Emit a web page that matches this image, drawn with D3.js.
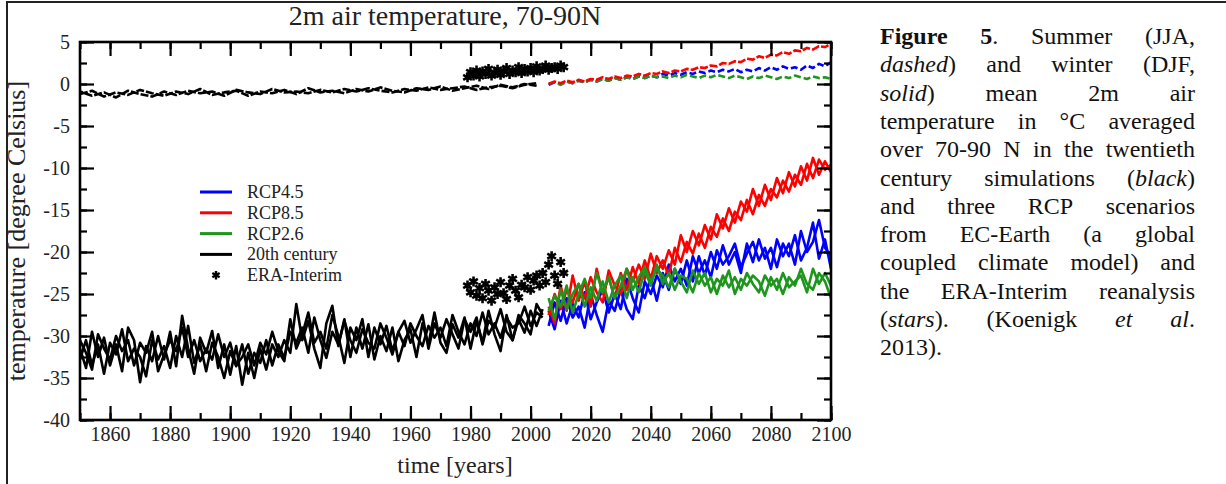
<!DOCTYPE html>
<html>
<head>
<meta charset="utf-8">
<script src="https://cdn.jsdelivr.net/npm/d3@7"></script>
<style>
  body { margin: 0; background: #fff; }
  svg { display: block; font-family: "Liberation Serif", "Times New Roman", serif; }
</style>
</head>
<body>
<div id="chart-container"></div>
<script>
// ---- data ----
const histStart = 1850;   // 20th century runs, every 2 years
const histStep = 2;
const histWinterA = [-31.5, -33.8, -29.5, -32.5, -30.2, -33.5, -31.0, -34.2, -29.0, -30.5,
  -35.5, -31.2, -33.0, -30.0, -32.8, -29.5, -33.6, -27.6, -31.5, -34.5,
  -30.2, -32.0, -29.4, -33.8, -31.0, -34.6, -31.2, -35.8, -32.0, -35.0,
  -31.5, -34.0, -31.0, -32.5, -30.5, -32.0, -26.2, -30.5, -28.2, -31.5,
  -33.8, -28.5, -26.4, -31.2, -28.0, -32.5, -29.0, -31.5, -28.6, -32.8,
  -30.0, -31.8, -29.0, -33.0, -30.5, -29.2, -32.5, -28.5, -31.0, -27.2,
  -30.8, -32.0, -28.6, -30.2, -27.8, -31.5, -28.2, -30.8, -27.0, -29.8,
  -31.8, -27.5, -30.5, -28.0, -29.6, -27.0, -28.8, -26.8];
const histWinterB = [-32.8, -30.5, -33.5, -31.0, -34.5, -30.8, -32.2, -29.2, -33.0, -31.5,
  -32.5, -34.8, -30.5, -32.8, -31.2, -33.8, -30.0, -32.5, -28.8, -33.2,
  -31.0, -34.2, -30.8, -32.5, -35.0, -31.8, -33.6, -31.0, -34.5, -32.0,
  -33.2, -30.5, -33.5, -31.0, -32.6, -29.5, -30.8, -29.0, -32.0, -27.8,
  -30.5, -32.6, -29.5, -31.0, -28.2, -30.5, -32.0, -29.2, -30.8, -31.5,
  -28.5, -30.2, -32.2, -29.5, -31.2, -28.5, -30.0, -31.2, -28.8, -30.2,
  -29.0, -31.2, -27.5, -29.5, -31.0, -28.5, -30.0, -27.2, -29.8, -28.5,
  -30.2, -27.8, -29.0, -28.5, -26.5, -28.8, -27.2, -27.8];
const histWinterC = [-30.5, -32.0, -34.0, -29.8, -31.5, -32.8, -30.0, -31.8, -30.5, -33.5,
  -30.8, -32.0, -29.5, -34.2, -32.2, -30.5, -31.8, -29.0, -32.5, -30.5,
  -33.0, -31.5, -32.8, -29.8, -32.5, -30.8, -33.5, -32.5, -31.0, -33.5,
  -30.8, -32.2, -29.5, -31.8, -33.0, -28.0, -31.5, -29.8, -27.2, -30.8,
  -29.5, -31.5, -27.5, -30.0, -33.2, -29.0, -30.5, -28.0, -32.5, -29.0,
  -31.0, -28.8, -31.8, -29.5, -28.2, -30.8, -29.2, -27.5, -31.5, -28.5,
  -30.2, -28.0, -29.8, -31.5, -28.0, -29.5, -27.8, -31.0, -28.2, -29.0,
  -26.8, -29.5, -30.5, -27.5, -28.5, -29.8, -26.2, -27.5];

const histSummerStep = 4;
const histSummerA = [-1.2, -0.8, -1.5, -1.0, -1.3, -0.7, -1.1, -1.4, -0.9, -1.2,
  -0.6, -1.3, -1.0, -0.8, -1.4, -0.9, -1.1, -0.7, -1.2, -0.5,
  -1.0, -0.8, -1.1, -0.6, -0.9, -0.4, -0.8, -1.0, -0.5, -0.7,
  -0.3, -0.8, -0.5, -0.2, -0.6, -0.1, -0.4, 0.0, -0.2];
const histSummerB = [-0.9, -1.4, -1.0, -1.6, -0.8, -1.2, -1.5, -0.9, -1.3, -0.8,
  -1.1, -0.9, -1.4, -0.7, -1.0, -1.2, -0.6, -1.0, -0.9, -1.1,
  -0.7, -1.0, -0.6, -0.9, -0.5, -0.8, -1.0, -0.6, -0.8, -0.4,
  -0.7, -0.5, -0.3, -0.7, -0.4, -0.2, -0.5, -0.1, 0.1];

const rcpStart = 2006;    // scenario runs, every 2 years
const rcpStep = 2;
const rcp85WinterA = [-26.5, -28.5, -24.0, -27.0, -22.8, -25.8, -23.5, -26.5, -22.0, -25.0,
  -23.0, -25.5, -22.5, -24.5, -21.8, -23.8, -21.0, -23.2, -20.5, -22.0,
  -19.8, -21.5, -18.0, -20.0, -17.5, -19.2, -16.8, -18.5, -15.5, -17.2,
  -14.8, -16.5, -14.0, -15.2, -12.5, -14.5, -12.0, -13.8, -11.2, -13.0,
  -10.5, -12.2, -9.8, -11.5, -8.8, -10.8, -9.2, -10.5];
const rcp85WinterB = [-27.5, -25.0, -26.8, -24.5, -26.0, -23.8, -25.5, -23.0, -24.8, -26.0,
  -22.2, -24.0, -25.0, -22.0, -23.5, -21.5, -23.2, -20.2, -22.5, -21.0,
  -22.8, -19.5, -21.2, -18.8, -20.2, -17.8, -19.5, -17.0, -18.2, -16.0,
  -17.5, -15.2, -16.2, -13.8, -15.5, -13.2, -14.5, -12.5, -13.5, -11.5,
  -12.8, -10.8, -12.0, -9.5, -11.2, -9.0, -10.2, -9.6];
const rcp45WinterA = [-28.8, -26.0, -28.2, -25.5, -27.8, -26.5, -29.0, -25.0, -27.5, -29.5,
  -25.8, -27.0, -24.5, -26.8, -28.0, -24.0, -25.5, -23.0, -25.8, -22.5,
  -24.5, -22.0, -23.8, -21.0, -23.5, -20.5, -22.8, -20.0, -22.0, -19.2,
  -21.5, -20.0, -22.5, -19.0, -21.2, -18.5, -20.8, -19.5, -21.8, -19.0,
  -20.5, -18.0, -21.0, -19.5, -16.5, -20.8, -18.5, -22.0];
const rcp45WinterB = [-27.0, -29.2, -25.8, -28.5, -26.2, -27.8, -24.8, -28.0, -26.0, -24.5,
  -27.2, -25.0, -26.8, -23.2, -25.5, -27.2, -23.5, -25.0, -22.8, -24.2,
  -21.5, -23.5, -22.0, -24.0, -20.5, -22.5, -21.0, -23.0, -19.8, -21.5,
  -20.5, -19.0, -21.8, -20.2, -18.8, -21.0, -19.5, -22.0, -18.5, -20.5,
  -19.0, -21.5, -17.5, -20.0, -18.8, -16.2, -19.5, -20.5];
const rcp26WinterA = [-25.5, -28.0, -24.5, -26.8, -25.0, -23.8, -26.5, -24.2, -25.8, -23.5,
  -26.0, -24.0, -22.8, -25.5, -23.0, -24.8, -22.2, -24.0, -21.5, -23.8,
  -22.5, -24.5, -22.8, -23.2, -24.8, -22.5, -24.0, -23.0, -25.0, -22.8,
  -24.2, -23.0, -24.5, -22.5, -23.8, -24.8, -22.8, -24.0, -23.2, -25.0,
  -23.0, -24.0, -22.0, -23.8, -24.5, -22.5, -23.5, -25.5];
const rcp26WinterB = [-27.0, -25.2, -26.5, -24.0, -27.2, -25.0, -23.2, -25.5, -22.5, -24.8,
  -23.0, -25.5, -24.0, -22.0, -24.5, -23.0, -21.8, -23.5, -22.0, -22.8,
  -24.2, -22.0, -23.5, -24.8, -22.2, -23.8, -22.5, -24.8, -23.2, -24.0,
  -22.2, -25.0, -23.2, -24.0, -22.8, -23.5, -25.2, -23.0, -24.5, -22.5,
  -24.2, -23.5, -22.8, -24.8, -22.0, -23.8, -22.5, -24.0];

const rcp85Summer = [0.0, 0.3, 0.1, 0.4, 0.2, 0.5, 0.3, 0.6, 0.5, 0.8,
  0.6, 0.9, 0.7, 1.0, 0.9, 1.2, 1.0, 1.3, 1.2, 1.5,
  1.3, 1.6, 1.5, 1.8, 1.7, 2.0, 1.9, 2.2, 2.1, 2.5,
  2.4, 2.7, 2.6, 3.0, 2.9, 3.3, 3.1, 3.5, 3.4, 3.8,
  3.6, 4.0, 3.9, 4.3, 4.1, 4.5, 4.4, 4.8];
const rcp45Summer = [-0.1, 0.2, 0.0, 0.3, 0.1, 0.4, 0.2, 0.5, 0.3, 0.6,
  0.4, 0.7, 0.5, 0.8, 0.6, 0.9, 0.7, 1.0, 0.8, 1.2,
  1.0, 1.3, 1.1, 1.4, 1.2, 1.5, 1.3, 1.6, 1.4, 1.7,
  1.5, 1.8, 1.4, 1.7, 1.5, 1.9, 1.6, 2.0, 1.7, 2.1,
  1.8, 2.0, 1.7, 2.2, 1.9, 2.4, 2.1, 2.6];
const rcp26Summer = [0.0, 0.2, -0.1, 0.3, 0.1, 0.4, 0.2, 0.5, 0.3, 0.6,
  0.4, 0.7, 0.5, 0.8, 0.6, 0.9, 0.7, 1.0, 0.8, 0.9,
  0.7, 1.0, 0.8, 1.1, 0.9, 0.7, 1.0, 0.8, 1.1, 0.9,
  0.7, 1.0, 0.8, 0.6, 0.9, 0.7, 1.0, 0.8, 0.6, 0.9,
  0.7, 1.0, 0.8, 0.6, 0.9, 0.7, 0.8, 0.6];

const eraStart = 1979;    // ERA-Interim, yearly
const eraWinter = [-24.0, -24.8, -23.5, -25.2, -24.3, -25.5, -23.8, -24.6, -25.8, -24.2,
  -25.0, -23.6, -24.9, -25.6, -24.0, -23.2, -24.6, -25.4, -23.9, -24.2,
  -23.0, -24.5, -23.4, -22.8, -24.0, -22.5, -23.6, -21.5, -20.5, -22.8,
  -23.8, -21.2, -22.5];
const eraSummer = [0.8, 1.4, 1.0, 1.6, 0.9, 1.5, 1.2, 1.8, 1.0, 1.3,
  1.7, 1.1, 1.5, 1.9, 1.2, 1.6, 1.4, 2.0, 1.3, 1.8,
  1.5, 1.9, 1.4, 2.1, 1.6, 1.8, 2.2, 1.7, 1.9, 2.0,
  1.8, 2.2, 2.0];

const xTicks = [1860, 1880, 1900, 1920, 1940, 1960, 1980, 2000, 2020, 2040, 2060, 2080, 2100];
const yTicks = [5, 0, -5, -10, -15, -20, -25, -30, -35, -40];
const legendNames = ["RCP4.5", "RCP8.5", "RCP2.6", "20th century", "ERA-Interim"];
const legendColors = ["#0000ff", "#ff0000", "#1e961e", "#000000", "#000000"];

const captionLines = [
  "**Figure** **5**. Summer (JJA,",
  "*dashed*) and winter (DJF,",
  "*solid*) mean 2m air",
  "temperature in °C averaged",
  "over 70-90 N in the twentieth",
  "century simulations (*black*)",
  "and three RCP scenarios",
  "from EC-Earth (a global",
  "coupled climate model) and",
  "the ERA-Interim reanalysis",
  "(*stars*). (Koenigk *et* *al*.",
  "2013)."
];

// ---- layout ----
const W = 1226, H = 484;
const plot = { left: 80, right: 831, top: 42, bottom: 420 };
const serif = "'Liberation Serif', 'Times New Roman', Times, serif";

const svg = d3.select("#chart-container")
    .append("svg")
    .attr("width", W)
    .attr("height", H)
    .style("font-family", serif);

// outer frame
svg.append("rect")
    .attr("x", 7).attr("y", 2)
    .attr("width", W + 10).attr("height", H + 10)
    .attr("fill", "none")
    .attr("stroke", "#222")
    .attr("stroke-width", 2);

const x = d3.scaleLinear().domain([1850, 2100]).range([plot.left, plot.right]);
const y = d3.scaleLinear().domain([-40, 5]).range([plot.bottom, plot.top]);

svg.append("clipPath").attr("id", "clip")
    .append("rect")
    .attr("x", plot.left).attr("y", plot.top)
    .attr("width", plot.right - plot.left).attr("height", plot.bottom - plot.top);

const g = svg.append("g").attr("clip-path", "url(#clip)");

function drawLine(values, start, step, color, width, dash, offset) {
    const line = d3.line()
        .x((d, i) => x(start + i * step))
        .y(d => y(d));
    g.append("path")
        .datum(values)
        .attr("fill", "none")
        .attr("stroke", color)
        .attr("stroke-width", width)
        .attr("stroke-linejoin", "round")
        .attr("stroke-dasharray", dash || null)
        .attr("stroke-dashoffset", offset || 0)
        .attr("d", line);
}

// summer (dashed)
drawLine(histSummerA, histStart, histSummerStep, "#000", 2.6, "8,2");
drawLine(histSummerB, histStart, histSummerStep, "#000", 2.6, "8,2", 5);
drawLine(rcp45Summer, rcpStart, rcpStep, "#0000ff", 2.6, "7,3");
drawLine(rcp26Summer, rcpStart, rcpStep, "#1e961e", 2.6, "7,3");
drawLine(rcp85Summer, rcpStart, rcpStep, "#ff0000", 2.6, "8,2");

// winter (solid)
[histWinterA, histWinterB, histWinterC].forEach(v => drawLine(v, histStart, histStep, "#000", 2.6));
[rcp45WinterA, rcp45WinterB].forEach(v => drawLine(v, rcpStart, rcpStep, "#0000ff", 2.6));
[rcp85WinterA, rcp85WinterB].forEach(v => drawLine(v, rcpStart, rcpStep, "#ff0000", 2.6));
[rcp26WinterA, rcp26WinterB].forEach(v => drawLine(v, rcpStart, rcpStep, "#1e961e", 2.6));

// ERA-Interim stars
const star = d3.symbol().type(d3.symbolAsterisk).size(70);
[eraWinter, eraSummer].forEach(vals => {
    g.selectAll(null)
        .data(vals)
        .enter()
        .append("path")
        .attr("d", star)
        .attr("transform", (d, i) => `translate(${x(eraStart + i)},${y(d)})`)
        .attr("fill", "none")
        .attr("stroke", "#000")
        .attr("stroke-width", 2.6);
});

// ---- axes (ticks point inward) ----
function styleAxis(sel) {
    sel.attr("font-family", null).attr("font-size", null);
    sel.select(".domain").remove();
    sel.selectAll(".tick line").attr("stroke", "#000").attr("stroke-width", 2.2);
    sel.selectAll(".tick text")
        .attr("fill", "#222")
        .style("font-family", serif)
        .style("font-size", "20px");
}
const xMinor = d3.range(1850, 2101, 10);
const yMinor = d3.range(-40, 5.1, 2.5);

svg.append("g").attr("transform", `translate(0,${plot.bottom})`)
    .call(d3.axisBottom(x).tickValues(xMinor).tickSize(-7).tickFormat(""))
    .call(styleAxis);
svg.append("g").attr("transform", `translate(0,${plot.bottom})`)
    .call(d3.axisBottom(x).tickValues(xTicks).tickSize(-14).tickPadding(7).tickFormat(d3.format("d")))
    .call(styleAxis);
svg.append("g").attr("transform", `translate(0,${plot.top})`)
    .call(d3.axisTop(x).tickValues(xMinor).tickSize(-7).tickFormat(""))
    .call(styleAxis);
svg.append("g").attr("transform", `translate(0,${plot.top})`)
    .call(d3.axisTop(x).tickValues(xTicks).tickSize(-14).tickFormat(""))
    .call(styleAxis);

svg.append("g").attr("transform", `translate(${plot.left},0)`)
    .call(d3.axisLeft(y).tickValues(yMinor).tickSize(-7).tickFormat(""))
    .call(styleAxis);
svg.append("g").attr("transform", `translate(${plot.left},0)`)
    .call(d3.axisLeft(y).tickValues(yTicks).tickSize(-14).tickPadding(10).tickFormat(d => String(d)))
    .call(styleAxis);
svg.append("g").attr("transform", `translate(${plot.right},0)`)
    .call(d3.axisRight(y).tickValues(yMinor).tickSize(-7).tickFormat(""))
    .call(styleAxis);
svg.append("g").attr("transform", `translate(${plot.right},0)`)
    .call(d3.axisRight(y).tickValues(yTicks).tickSize(-14).tickFormat(""))
    .call(styleAxis);

// plot frame
svg.append("rect")
    .attr("x", plot.left).attr("y", plot.top)
    .attr("width", plot.right - plot.left).attr("height", plot.bottom - plot.top)
    .attr("fill", "none")
    .attr("stroke", "#000")
    .attr("stroke-width", 2.6);

// titles
svg.append("text")
    .attr("x", 445).attr("y", 25)
    .attr("text-anchor", "middle")
    .attr("fill", "#222")
    .style("font-size", "28px")
    .text("2m air temperature, 70-90N");

svg.append("text")
    .attr("x", 455).attr("y", 473)
    .attr("text-anchor", "middle")
    .attr("fill", "#222")
    .style("font-size", "24px")
    .text("time [years]");

svg.append("text")
    .attr("transform", `translate(25,${(plot.top + plot.bottom) / 2}) rotate(-90)`)
    .attr("text-anchor", "middle")
    .attr("fill", "#222")
    .style("font-size", "26px")
    .text("temperature [degree Celsius]");

// legend
const legend = svg.selectAll(".legend")
    .data(legendNames)
    .enter()
    .append("g")
    .attr("class", "legend")
    .attr("transform", (d, i) => `translate(200,${192 + i * 20.8})`);

legend.filter((d, i) => i < 4).append("line")
    .attr("x1", 0).attr("x2", 32)
    .attr("stroke", (d, i) => legendColors[i])
    .attr("stroke-width", 3);
legend.filter((d, i) => i === 4).append("path")
    .attr("d", d3.symbol().type(d3.symbolAsterisk).size(50))
    .attr("transform", "translate(16,0)")
    .attr("fill", "none")
    .attr("stroke", "#000")
    .attr("stroke-width", 2.4);
legend.append("text")
    .attr("x", 47).attr("y", 6)
    .attr("fill", "#222")
    .style("font-size", "18px")
    .text(d => d);

// caption, justified
const cap = { left: 880, right: 1195, top: 44, lh: 28.3, size: 24 };
captionLines.forEach((line, li) => {
    const words = line.split(" ");
    const nodes = words.map(w => {
        const t = svg.append("text")
            .attr("y", cap.top + li * cap.lh)
            .attr("fill", "#111")
            .style("font-family", serif)
            .style("font-size", cap.size + "px");
        w.split(/(\*\*[^*]+\*\*|\*[^*]+\*)/).filter(s => s).forEach(s => {
            const ts = t.append("tspan");
            if (s.startsWith("**")) ts.style("font-weight", "bold").text(s.slice(2, -2));
            else if (s.startsWith("*")) ts.style("font-style", "italic").text(s.slice(1, -1));
            else ts.text(s);
        });
        return t;
    });
    const widths = nodes.map(t => t.node().getComputedTextLength());
    const total = d3.sum(widths);
    const last = li === captionLines.length - 1;
    const gap = last || nodes.length < 2 ? 6 : (cap.right - cap.left - total) / (nodes.length - 1);
    let cx = cap.left;
    nodes.forEach((t, i) => {
        t.attr("x", cx);
        cx += widths[i] + gap;
    });
});
</script>
</body>
</html>
